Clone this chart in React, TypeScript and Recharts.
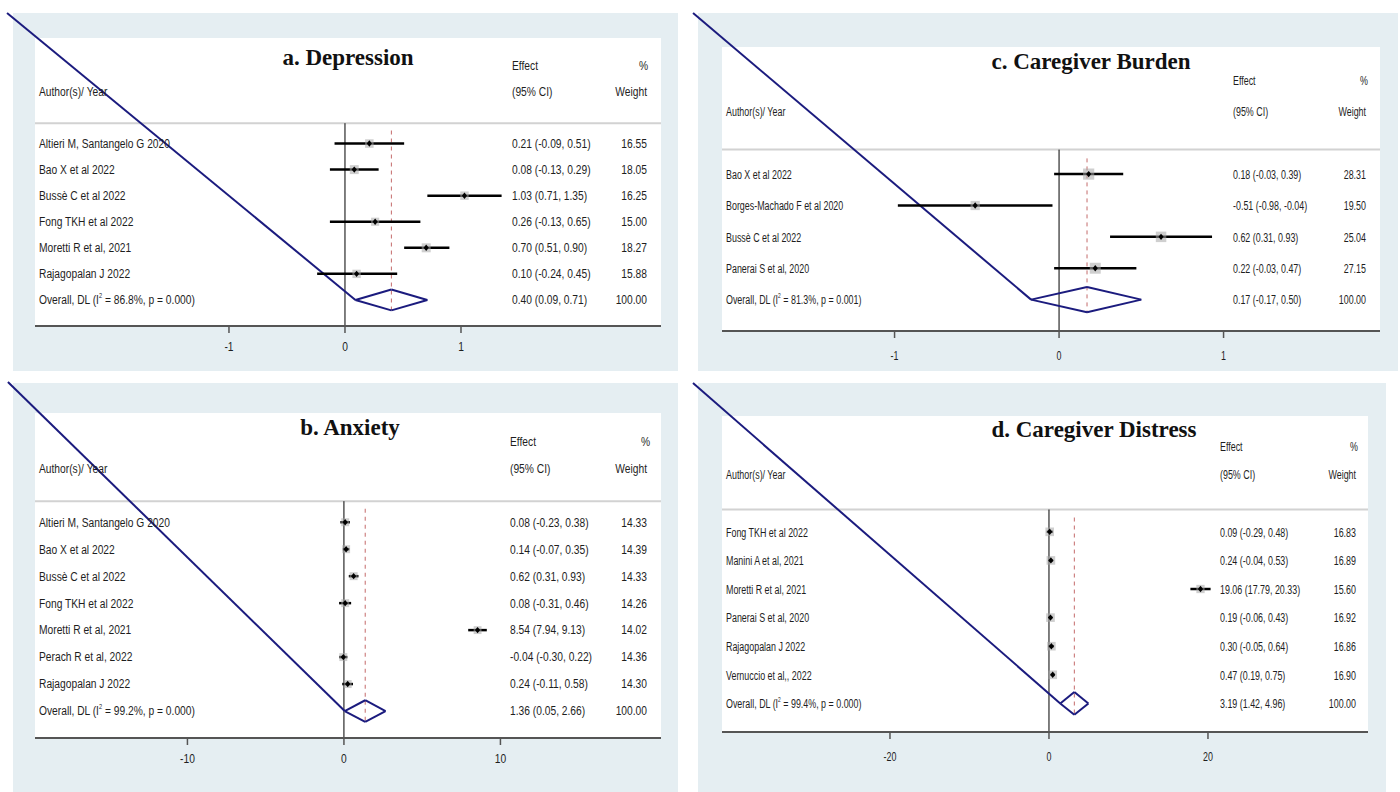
import React from 'react';
import { ComposedChart, Scatter, ErrorBar, XAxis, YAxis, ReferenceLine } from 'recharts';

// a. Depression
const depStudies = ['Altieri M, Santangelo G 2020', 'Bao X et al 2022', 'Bussè C et al 2022', 'Fong TKH et al 2022', 'Moretti R et al, 2021', 'Rajagopalan J 2022'];
const depEffect = [0.21, 0.08, 1.03, 0.26, 0.7, 0.1];
const depLower = [-0.09, -0.13, 0.71, -0.13, 0.51, -0.24];
const depUpper = [0.51, 0.29, 1.35, 0.65, 0.9, 0.45];
const depWeight = [16.55, 18.05, 16.25, 15.0, 18.27, 15.88];
const depOverall = [0.4, 0.09, 0.71];
const depHet = ['86.8%', '0.000'];
const depTicks = [-1, 0, 1];

// b. Anxiety
const anxStudies = ['Altieri M, Santangelo G 2020', 'Bao X et al 2022', 'Bussè C et al 2022', 'Fong TKH et al 2022', 'Moretti R et al, 2021', 'Perach R et al, 2022', 'Rajagopalan J 2022'];
const anxEffect = [0.08, 0.14, 0.62, 0.08, 8.54, -0.04, 0.24];
const anxLower = [-0.23, -0.07, 0.31, -0.31, 7.94, -0.3, -0.11];
const anxUpper = [0.38, 0.35, 0.93, 0.46, 9.13, 0.22, 0.58];
const anxWeight = [14.33, 14.39, 14.33, 14.26, 14.02, 14.36, 14.3];
const anxOverall = [1.36, 0.05, 2.66];
const anxHet = ['99.2%', '0.000'];
const anxTicks = [-10, 0, 10];

// c. Caregiver Burden
const burStudies = ['Bao X et al 2022', 'Borges-Machado F et al 2020', 'Bussè C et al 2022', 'Panerai S et al, 2020'];
const burEffect = [0.18, -0.51, 0.62, 0.22];
const burLower = [-0.03, -0.98, 0.31, -0.03];
const burUpper = [0.39, -0.04, 0.93, 0.47];
const burWeight = [28.31, 19.5, 25.04, 27.15];
const burOverall = [0.17, -0.17, 0.5];
const burHet = ['81.3%', '0.001'];
const burTicks = [-1, 0, 1];

// d. Caregiver Distress
const disStudies = ['Fong TKH et al 2022', 'Manini A et al, 2021', 'Moretti R et al, 2021', 'Panerai S et al, 2020', 'Rajagopalan J 2022', 'Vernuccio et al,, 2022'];
const disEffect = [0.09, 0.24, 19.06, 0.19, 0.3, 0.47];
const disLower = [-0.29, -0.04, 17.79, -0.06, -0.05, 0.19];
const disUpper = [0.48, 0.53, 20.33, 0.43, 0.64, 0.75];
const disWeight = [16.83, 16.89, 15.6, 16.92, 16.86, 16.9];
const disOverall = [3.19, 1.42, 4.96];
const disHet = ['99.4%', '0.000'];
const disTicks = [-20, 0, 20];

const SANS = "'Liberation Sans', Arial, sans-serif";
const SERIF = "'Liberation Serif', 'Times New Roman', serif";
const NAVY = '#1b1b7e';
const BG = '#e5eef2';
const TOP = -4.05;
const SEP = -0.78;
const HALF = 0.4;
const AXIS_H = 30;

const panels = [
  {
    title: 'a. Depression', studies: depStudies, eff: depEffect, lo: depLower, hi: depUpper, wt: depWeight,
    overall: depOverall, het: depHet, ticks: depTicks, xDomain: [-2.672, 2.724], diagStart: [-2.913, -5.01],
    cell: { x: 0, y: 0, w: 700, h: 380 }, plot: { x: 35, y: 38, w: 626, h: 288 }, bg: { x: 13, y: 13, w: 665, h: 358 },
    cols: { name: 39, eff: 512, wR: 647, pctR: 648 }, titleX: 348, titleDy: 0, size: 12.5, sx: 0.82, tickDy: 12,
  },
  {
    title: 'b. Anxiety', studies: anxStudies, eff: anxEffect, lo: anxLower, hi: anxUpper, wt: anxWeight,
    overall: anxOverall, het: anxHet, ticks: anxTicks, xDomain: [-19.74, 20.26], diagStart: [-21.47, -5.2],
    cell: { x: 0, y: 380, w: 700, h: 412 }, plot: { x: 35, y: 413, w: 626, h: 325 }, bg: { x: 13, y: 383, w: 665, h: 409 },
    cols: { name: 39, eff: 510, wR: 647, pctR: 650 }, titleX: 350, titleDy: -6, size: 12.5, sx: 0.82, tickDy: 12,
  },
  {
    title: 'c. Caregiver Burden', studies: burStudies, eff: burEffect, lo: burLower, hi: burUpper, wt: burWeight,
    overall: burOverall, het: burHet, ticks: burTicks, xDomain: [-2.049, 1.951], diagStart: [-2.225, -5.13],
    cell: { x: 690, y: 0, w: 710, h: 380 }, plot: { x: 722, y: 47, w: 658, h: 284 }, bg: { x: 698, y: 13, w: 700, h: 358 },
    cols: { name: 726, eff: 1233, wR: 1366, pctR: 1368 }, titleX: 1091, titleDy: -11, size: 13.5, sx: 0.66, tickDy: 15,
  },
  {
    title: 'd. Caregiver Distress', studies: disStudies, eff: disEffect, lo: disLower, hi: disUpper, wt: disWeight,
    overall: disOverall, het: disHet, ticks: disTicks, xDomain: [-41.13, 40.13], diagStart: [-44.78, -5.2],
    cell: { x: 690, y: 380, w: 710, h: 412 }, plot: { x: 722, y: 416, w: 646, h: 316 }, bg: { x: 698, y: 383, w: 688, h: 409 },
    cols: { name: 726, eff: 1220, wR: 1356, pctR: 1358 }, titleX: 1094, titleDy: -9, size: 13.5, sx: 0.66, tickDy: 15,
  },
];

type Panel = (typeof panels)[number];

const f2 = (v: number) => v.toFixed(2);

function Label({ x, y, anchor = 'start', size, sx, children }: any) {
  return (
    <text
      transform={`translate(${x},${y}) scale(${sx},1)`}
      textAnchor={anchor}
      dominantBaseline="central"
      fontSize={size}
      fontFamily={SANS}
      fill="#1e1e1e"
    >
      {children}
    </text>
  );
}

// text of one table row, placed at the row's y from the scale
const rowShape = (p: Panel) => (props: any) => {
  const { cy, payload } = props;
  if (cy == null) return <g />;
  const y = cy;
  const r = payload.y as number;
  const ox = p.cell.x;
  const c = { name: p.cols.name - ox, eff: p.cols.eff - ox, wR: p.cols.wR - ox, pctR: p.cols.pctR - ox };
  const L = (x: number, txt: any, anchor = 'start') => (
    <Label x={x} y={y} anchor={anchor} size={p.size} sx={p.sx}>{txt}</Label>
  );
  const n = p.studies.length;
  if (r === -3) {
    return (
      <g>
        <text x={p.titleX - ox} y={y + p.titleDy} textAnchor="middle" fontSize={23} fontWeight="bold" fontFamily={SERIF} fill="#111">
          {p.title}
        </text>
        {L(c.eff, 'Effect')}
        {L(c.pctR, '%', 'end')}
      </g>
    );
  }
  if (r === -2) {
    return (
      <g>
        {L(c.name, 'Author(s)/ Year')}
        {L(c.eff, '(95% CI)')}
        {L(c.wR, 'Weight', 'end')}
      </g>
    );
  }
  if (r < n) {
    return (
      <g>
        {L(c.name, p.studies[r])}
        {L(c.eff, `${f2(p.eff[r])} (${f2(p.lo[r])}, ${f2(p.hi[r])})`)}
        {L(c.wR, f2(p.wt[r]), 'end')}
      </g>
    );
  }
  const [e, lo, hi] = p.overall;
  return (
    <g>
      <Label x={c.name} y={y} size={p.size} sx={p.sx}>
        Overall, DL (I
        <tspan dy={-5} fontSize={p.size * 0.55}>2</tspan>
        <tspan dy={5}>{` = ${p.het[0]}, p = ${p.het[1]})`}</tspan>
      </Label>
      {L(c.eff, `${f2(e)} (${f2(lo)}, ${f2(hi)})`)}
      {L(c.wR, '100.00', 'end')}
    </g>
  );
};

const xTick = (p: Panel) => (props: any) => {
  const { x, y, payload } = props;
  return (
    <Label x={x} y={y + p.tickDy} anchor="middle" size={p.size} sx={p.sx}>
      {String(payload.value)}
    </Label>
  );
};

const marker = (props: any) => {
  const { cx, cy, payload } = props;
  if (cx == null || cy == null) return <g />;
  const s = 2.1 * Math.sqrt(payload.w);
  return (
    <g>
      <rect x={cx - s / 2} y={cy - s / 2} width={s} height={s} fill="#a8a8a8" fillOpacity={0.55} />
      <path d={`M${cx},${cy - 3.2}L${cx + 2.6},${cy}L${cx},${cy + 3.2}L${cx - 2.6},${cy}Z`} fill="#000" />
    </g>
  );
};

function ForestPanel({ p }: { p: Panel }) {
  const n = p.studies.length;
  const data = p.studies.map((_, i) => ({
    x: p.eff[i],
    y: i,
    err: [p.eff[i] - p.lo[i], p.hi[i] - p.eff[i]],
    w: p.wt[i],
  }));
  const rows = [-3, -2, ...p.studies.map((_, i) => i), n].map((r) => ({ x: p.xDomain[0], y: r }));
  const [est, lo, hi] = p.overall;
  const margin = {
    left: p.plot.x - p.cell.x,
    top: p.plot.y - p.cell.y,
    right: p.cell.x + p.cell.w - (p.plot.x + p.plot.w),
    bottom: p.cell.y + p.cell.h - (p.plot.y + p.plot.h) - AXIS_H,
  };
  const diamond = [
    [p.diagStart[0], p.diagStart[1], lo, n],
    [lo, n, est, n - HALF],
    [est, n - HALF, hi, n],
    [hi, n, est, n + HALF],
    [est, n + HALF, lo, n],
  ];
  return (
    <>
      <div style={{ position: 'absolute', left: p.bg.x, top: p.bg.y, width: p.bg.w, height: p.bg.h, background: BG }} />
      <div style={{ position: 'absolute', left: p.plot.x, top: p.plot.y, width: p.plot.w, height: p.plot.h, background: '#fff' }} />
      <div style={{ position: 'absolute', left: p.cell.x, top: p.cell.y }}>
        <ComposedChart width={p.cell.w} height={p.cell.h} margin={margin}>
          <XAxis
            type="number"
            dataKey="x"
            domain={p.xDomain}
            allowDataOverflow
            ticks={p.ticks}
            interval={0}
            height={AXIS_H}
            axisLine={{ stroke: '#555', strokeWidth: 2 }}
            tickLine={{ stroke: '#555', strokeWidth: 1.5 }}
            tickSize={7}
            tick={xTick(p)}
          />
          <YAxis type="number" dataKey="y" domain={[TOP, n + 1]} reversed allowDataOverflow hide />
          <ReferenceLine segment={[{ x: p.xDomain[0], y: SEP }, { x: p.xDomain[1], y: SEP }]} stroke="#d2d2d2" strokeWidth={2} ifOverflow="visible" />
          <ReferenceLine segment={[{ x: 0, y: SEP }, { x: 0, y: n + 1 }]} stroke="#000" strokeWidth={1} ifOverflow="visible" />
          <ReferenceLine segment={[{ x: est, y: -0.5 }, { x: est, y: n + HALF }]} stroke="#c46a6a" strokeWidth={1} strokeDasharray="4 4" ifOverflow="visible" />
          {diamond.map((s, i) => (
            <ReferenceLine key={i} segment={[{ x: s[0], y: s[1] }, { x: s[2], y: s[3] }]} stroke={NAVY} strokeWidth={2} ifOverflow="visible" />
          ))}
          <Scatter name="rows" data={rows} shape={rowShape(p)} isAnimationActive={false} />
          <Scatter name="studies" data={data} shape={marker} isAnimationActive={false}>
            <ErrorBar dataKey="err" direction="x" width={0} stroke="#000" strokeWidth={2.5} isAnimationActive={false} />
          </Scatter>
        </ComposedChart>
      </div>
    </>
  );
}

export default function App() {
  return (
    <div style={{ position: 'absolute', left: 0, top: 0, width: 1400, height: 792, background: '#fff', overflow: 'hidden' }}>
      {panels.map((p) => (
        <ForestPanel key={p.title} p={p} />
      ))}
    </div>
  );
}
